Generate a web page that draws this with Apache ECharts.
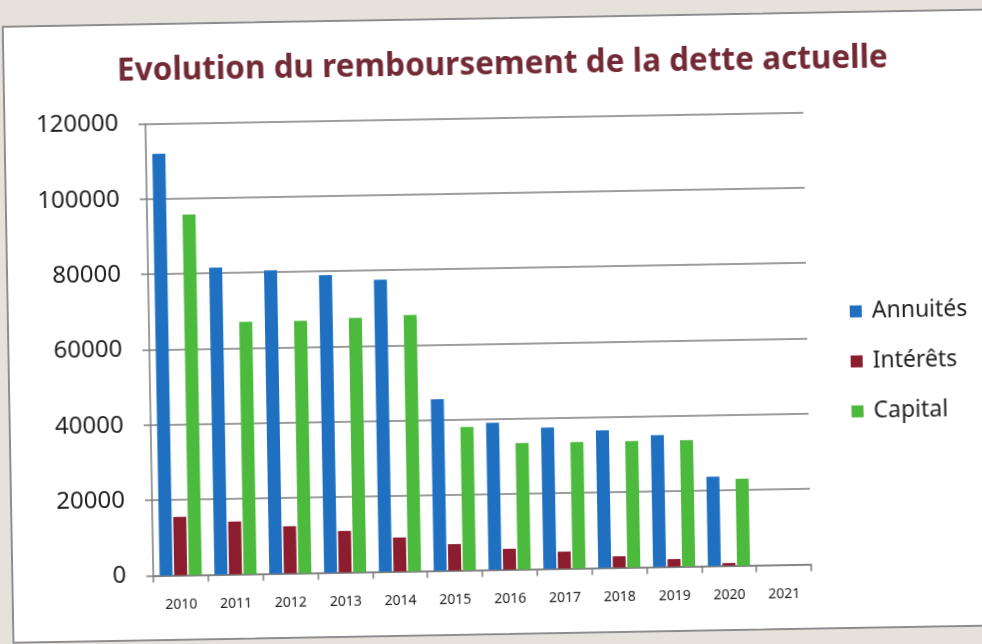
<!DOCTYPE html>
<html>
<head>
<meta charset="utf-8">
<script src="https://cdn.jsdelivr.net/npm/echarts@6/dist/echarts.min.js"></script>
<style>
    html, body { margin: 0; padding: 0; width: 982px; height: 644px; overflow: hidden; background: #e7e1db; }
    #main {
        position: absolute; left: 7px; top: 17px; width: 1000px; height: 618px;
        background: #fff; border: 2px solid #8d8d8d; box-sizing: border-box;
        transform: rotate(-1deg);
    }
</style>
</head>
<body>
<div id="main"></div>
<script>
var years = ['2010', '2011', '2012', '2013', '2014', '2015', '2016', '2017', '2018', '2019', '2020', '2021'];
var annuites = [112000, 81500, 80500, 79000, 77500, 45500, 39000, 37500, 36500, 35000, 23700, null];
var interets = [15500, 14000, 12500, 11000, 9000, 7000, 5500, 4500, 3000, 2000, 700, null];
var capital = [95700, 67000, 67000, 67500, 68000, 38000, 33500, 33500, 33500, 33500, 23000, null];
var yTicks = [0, 20000, 40000, 60000, 80000, 100000, 120000];

var chart = echarts.init(document.getElementById('main'), null, { renderer: 'canvas' });

var font = '"Noto Sans", "Open Sans", sans-serif';

var option = {
    animation: false,
    textStyle: { fontFamily: font },
    color: ['#1f70c1', '#8c1d2e', '#4cba3c'],
    title: {
        text: 'Evolution du remboursement de la dette actuelle',
        left: 'center',
        top: 25,
        textStyle: {
            fontFamily: font,
            fontSize: 31.5,
            fontWeight: 'bold',
            color: '#722a36'
        }
    },
    legend: {
        orient: 'vertical',
        left: 836,
        top: 282,
        itemWidth: 12,
        itemHeight: 12,
        itemGap: 27,
        icon: 'rect',
        textStyle: { fontSize: 23, color: '#222', lineHeight: 23, padding: [0, 0, 0, 5] },
        data: ['Annuités', 'Intérêts', 'Capital']
    },
    grid: {
        left: 140,
        top: 98.5,
        width: 658,
        height: 452,
        containLabel: false
    },
    xAxis: {
        type: 'category',
        data: years,
        axisLine: { lineStyle: { color: '#7d7d7d', width: 1.5 } },
        axisTick: { show: true, length: 7, lineStyle: { color: '#7d7d7d', width: 1.5 } },
        axisLabel: { fontSize: 14, color: '#222', margin: 23 }
    },
    yAxis: {
        type: 'value',
        min: yTicks[0],
        max: yTicks[yTicks.length - 1],
        interval: 20000,
        axisLine: { show: true, lineStyle: { color: '#7d7d7d', width: 1.5 } },
        axisTick: { show: true, length: 7, lineStyle: { color: '#7d7d7d', width: 1.5 } },
        axisLabel: {
            fontSize: 24,
            color: '#222',
            margin: 27,
            formatter: function (v) { return String(v); }
        },
        splitLine: { lineStyle: { color: '#7d7d7d', width: 1.5 } }
    },
    series: [{
        name: 'Annuités',
        type: 'bar',
        barWidth: 13,
        barGap: '12%',
        data: annuites
    }, {
        name: 'Intérêts',
        type: 'bar',
        barWidth: 13,
        barGap: '12%',
        data: interets
    }, {
        name: 'Capital',
        type: 'bar',
        barWidth: 13,
        barGap: '12%',
        data: capital
    }]
};

chart.setOption(option);
</script>
</body>
</html>
